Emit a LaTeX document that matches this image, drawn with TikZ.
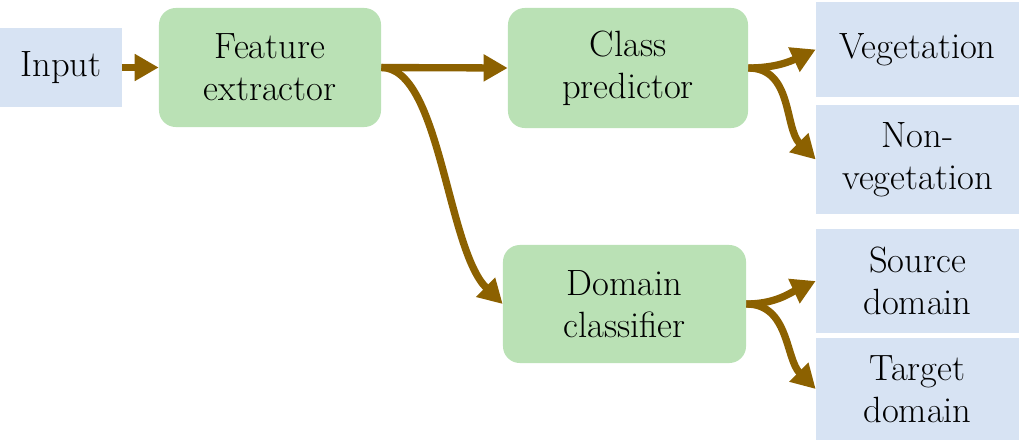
\documentclass[tikz,border=0pt]{standalone}
\usepackage{tikz}
\usetikzlibrary{arrows.meta}

\definecolor{boxgreen}{HTML}{BAE1B5}
\definecolor{boxblue}{HTML}{D7E3F3}
\definecolor{arrowbrown}{HTML}{8C6100}

\begin{document}
\begin{tikzpicture}[x=0.025cm, y=-0.025cm]

% Set the overall frame of the picture
\useasboundingbox (0,0) rectangle (1023,443);

% Define styles for blocks and outputs
\tikzstyle{block} = [rectangle, rounded corners=0.42cm, fill=boxgreen, align=center,
    font=\fontsize{26}{30}\selectfont]
\tikzstyle{outbox} = [rectangle, fill=boxblue, align=center, minimum width=5.075cm,
    font=\fontsize{26}{30}\selectfont]

%Define flechas marrones gruesas
\tikzstyle{flow}=[draw=arrowbrown, line width=5.2pt, -{Triangle[length=0.6cm, width=0.64cm]}]

\node[outbox, minimum width=3.025cm, minimum height=1.975cm] (input) at (61,67.5) {Input};
\node[block, minimum width=5.55cm, minimum height=2.975cm] (feature) at (270,67.5) {Feature\\extractor};
\node[block, minimum width=6cm, minimum height=3cm] (class) at (628,68) {Class\\predictor};
\node[block, minimum width=6.075cm, minimum height=2.95cm] (domain) at (624.5,304) {Domain\\classifier};

\node[outbox, minimum height=2.375cm] (veg) at (917.5,49.5) {Vegetation};
\node[outbox, minimum height=2.725cm] (nonveg) at (917.5,159.5) {Non-\\vegetation};
\node[outbox, minimum height=2.6cm] (source) at (917.5,281) {Source\\domain};
\node[outbox, minimum height=2.55cm] (target) at (917.5,389) {Target\\domain};

% Connectors
\draw[flow] (input) -- (feature);
\draw[flow] (feature.east) -- (class.west);
\draw[flow] (feature.east) .. controls +(59,0) and +(-56,-55) .. (domain.west);
\draw[flow] (class.east) to[out=0, in=205] (veg.west);
\draw[flow] (class.east) to[out=0, in=135] (nonveg.west);
\draw[flow] (domain.east) to[out=0, in=205] (source.west);
\draw[flow] (domain.east) to[out=0, in=135] (target.west);

\end{tikzpicture}
\end{document}
